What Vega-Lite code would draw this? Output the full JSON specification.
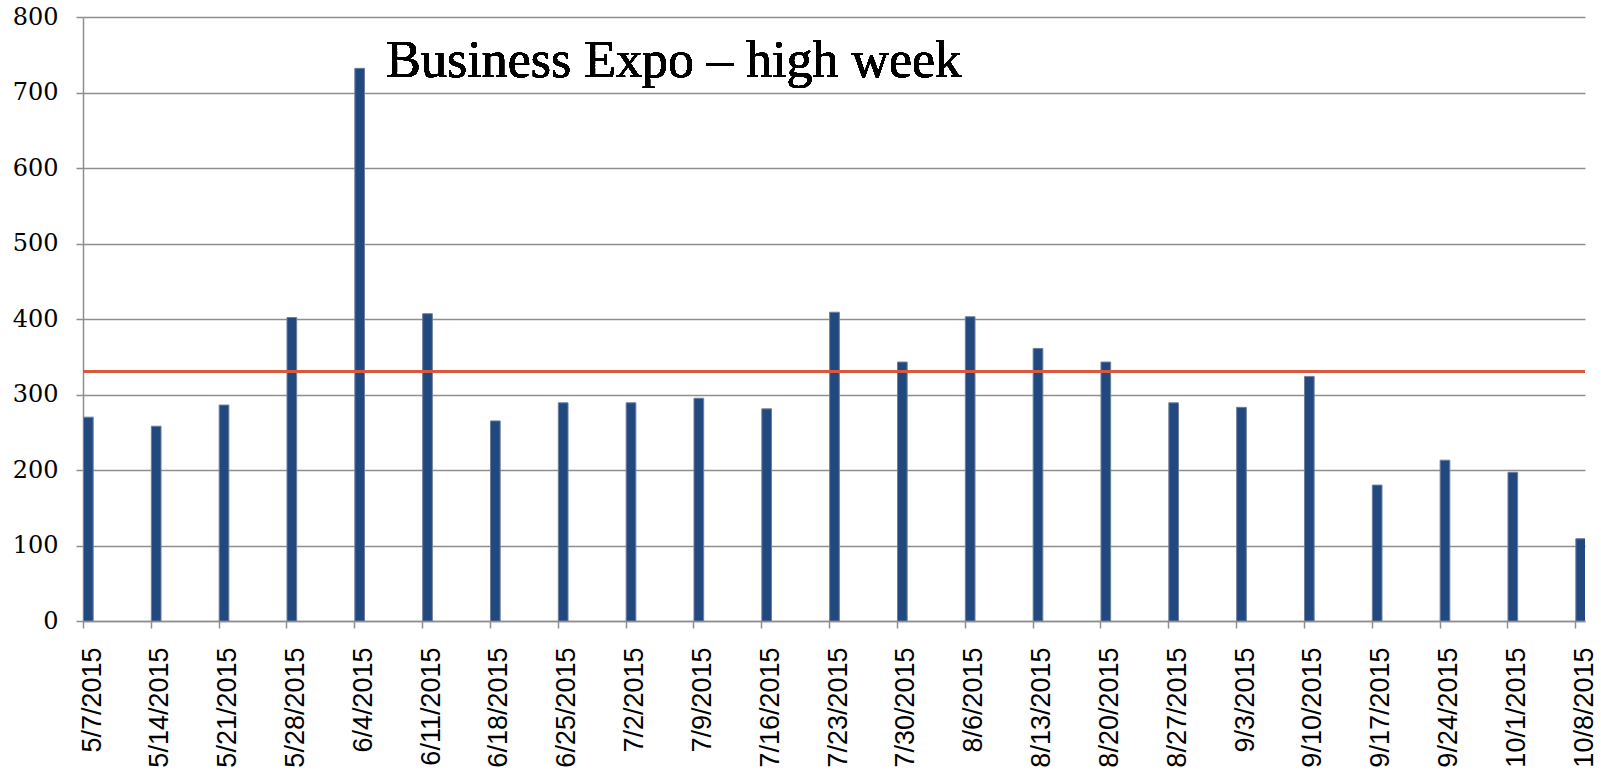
{
  "$schema": "https://vega.github.io/schema/vega-lite/v6.json",
  "autosize": {"type": "none"},
  "padding": {"left": 83, "top": 17, "right": 16, "bottom": 153},
  "width": 1502,
  "height": 604,
  "background": "white",
  "config": {
    "view": {"stroke": null},
    "axis": {
      "gridColor": "#8e8e8e",
      "gridWidth": 1.5,
      "domainColor": "#8e8e8e",
      "domainWidth": 1.5,
      "tickColor": "#8e8e8e",
      "tickWidth": 1.5,
      "tickSize": 7,
      "labelColor": "#000000",
      "title": null
    }
  },
  "data": {
    "values": [
      {"week": "2015-05-07", "count": 270},
      {"week": "2015-05-14", "count": 258},
      {"week": "2015-05-21", "count": 286},
      {"week": "2015-05-28", "count": 402},
      {"week": "2015-06-04", "count": 732},
      {"week": "2015-06-11", "count": 407},
      {"week": "2015-06-18", "count": 265},
      {"week": "2015-06-25", "count": 289},
      {"week": "2015-07-02", "count": 289},
      {"week": "2015-07-09", "count": 295},
      {"week": "2015-07-16", "count": 281},
      {"week": "2015-07-23", "count": 409},
      {"week": "2015-07-30", "count": 343},
      {"week": "2015-08-06", "count": 403},
      {"week": "2015-08-13", "count": 361},
      {"week": "2015-08-20", "count": 343},
      {"week": "2015-08-27", "count": 289},
      {"week": "2015-09-03", "count": 283},
      {"week": "2015-09-10", "count": 324},
      {"week": "2015-09-17", "count": 180},
      {"week": "2015-09-24", "count": 213},
      {"week": "2015-10-01", "count": 197},
      {"week": "2015-10-08", "count": 109}
    ]
  },
  "layer": [
    {
      "mark": {"type": "bar", "fill": "#22497f", "stroke": "#6f7f9c", "strokeWidth": 1, "binSpacing": 0, "clip": true},
      "encoding": {
        "x": {
          "field": "week",
          "timeUnit": "utcyearmonthdate",
          "type": "temporal",
          "scale": {
            "type": "utc",
            "domain": [
              {"year": 2015, "month": 5, "date": 7, "utc": true},
              {"year": 2015, "month": 10, "date": 9, "utc": true}
            ],
            "nice": false,
            "padding": 0
          },
          "axis": {
            "values": [
              {"year": 2015, "month": 5, "date": 7, "utc": true},
              {"year": 2015, "month": 5, "date": 14, "utc": true},
              {"year": 2015, "month": 5, "date": 21, "utc": true},
              {"year": 2015, "month": 5, "date": 28, "utc": true},
              {"year": 2015, "month": 6, "date": 4, "utc": true},
              {"year": 2015, "month": 6, "date": 11, "utc": true},
              {"year": 2015, "month": 6, "date": 18, "utc": true},
              {"year": 2015, "month": 6, "date": 25, "utc": true},
              {"year": 2015, "month": 7, "date": 2, "utc": true},
              {"year": 2015, "month": 7, "date": 9, "utc": true},
              {"year": 2015, "month": 7, "date": 16, "utc": true},
              {"year": 2015, "month": 7, "date": 23, "utc": true},
              {"year": 2015, "month": 7, "date": 30, "utc": true},
              {"year": 2015, "month": 8, "date": 6, "utc": true},
              {"year": 2015, "month": 8, "date": 13, "utc": true},
              {"year": 2015, "month": 8, "date": 20, "utc": true},
              {"year": 2015, "month": 8, "date": 27, "utc": true},
              {"year": 2015, "month": 9, "date": 3, "utc": true},
              {"year": 2015, "month": 9, "date": 10, "utc": true},
              {"year": 2015, "month": 9, "date": 17, "utc": true},
              {"year": 2015, "month": 9, "date": 24, "utc": true},
              {"year": 2015, "month": 10, "date": 1, "utc": true},
              {"year": 2015, "month": 10, "date": 8, "utc": true}
            ],
            "format": "%-m/%-d/%Y",
            "labelAngle": -90,
            "labelAlign": "right",
            "labelBaseline": "middle",
            "labelFont": "Liberation Sans",
            "labelFontSize": 27,
            "labelPadding": 19,
            "labelOffset": 9,
            "labelOverlap": false,
            "labelBound": false,
            "labelFlush": false,
            "grid": false
          }
        },
        "y": {
          "field": "count",
          "type": "quantitative",
          "scale": {"domain": [0, 800], "nice": false},
          "axis": {
            "values": [0, 100, 200, 300, 400, 500, 600, 700, 800],
            "labelFont": "DejaVu Serif",
            "labelFontSize": 24,
            "labelPadding": 18,
            "grid": true
          }
        }
      }
    },
    {
      "mark": {"type": "rule", "color": "#d9593c", "strokeWidth": 2.5},
      "encoding": {"y": {"datum": 330, "type": "quantitative"}}
    },
    {
      "mark": {
        "type": "text",
        "text": "Business Expo – high week",
        "font": "Liberation Serif",
        "fontSize": 52,
        "align": "left",
        "baseline": "alphabetic",
        "dx": 32,
        "color": "#000000"
      },
      "encoding": {
        "x": {"datum": {"year": 2015, "month": 6, "date": 4, "utc": true}, "type": "temporal"},
        "y": {"datum": 720, "type": "quantitative"}
      }
    }
  ]
}
